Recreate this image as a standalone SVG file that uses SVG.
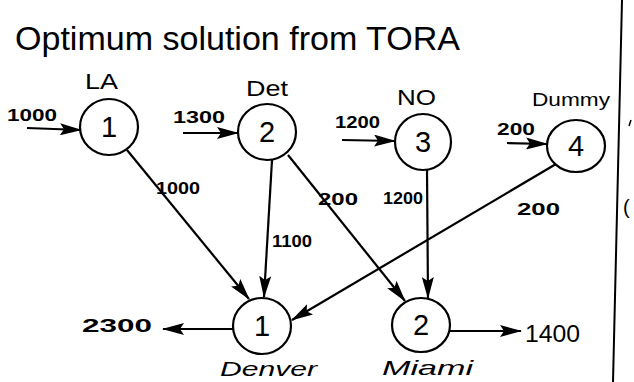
<svg xmlns="http://www.w3.org/2000/svg" width="634" height="382" viewBox="0 0 634 382">
<style>
  text{font-family:"Liberation Sans","DejaVu Sans",sans-serif;fill:#000}
  .title{font-size:34px}
  .name{font-size:22px}
  .num{font-size:17px;font-weight:bold}
  .city{font-size:21px;font-style:italic}
  .node ellipse{fill:#fff;stroke:#000;stroke-width:2.2}
  .node text.d{font-size:29px;text-anchor:middle}
  .edge{stroke:#000;stroke-width:2.2;fill:none;marker-end:url(#ah)}
</style>
<defs>
  <marker id="ah" viewBox="0 0 22 12" refX="21" refY="6" markerWidth="22" markerHeight="12" markerUnits="userSpaceOnUse" orient="auto">
    <path d="M0,0 L22,6 L0,12 L4,6 Z" fill="#000"/>
  </marker>
</defs>

<text class="title" x="15" y="50" textLength="445" lengthAdjust="spacingAndGlyphs">Optimum solution from TORA</text>

<g id="connectors">
  <line class="edge" x1="27" y1="128" x2="81" y2="130"/>
  <line class="edge" x1="183" y1="133" x2="238" y2="133"/>
  <line class="edge" x1="342" y1="140" x2="395" y2="141"/>
  <line class="edge" x1="507" y1="143" x2="547" y2="144"/>
  <line class="edge" x1="127" y1="150" x2="249" y2="299"/>
  <line class="edge" x1="272" y1="160" x2="264" y2="297"/>
  <line class="edge" x1="288" y1="155" x2="405" y2="301"/>
  <line class="edge" x1="427" y1="170" x2="428" y2="298"/>
  <line class="edge" x1="556" y1="164" x2="292" y2="320"/>
  <line class="edge" x1="233" y1="329" x2="163" y2="329"/>
  <line class="edge" x1="450" y1="331" x2="521" y2="331"/>
  <text class="num" x="7" y="121" textLength="50" lengthAdjust="spacingAndGlyphs">1000</text>
  <text class="num" x="173" y="123" textLength="52" lengthAdjust="spacingAndGlyphs">1300</text>
  <text class="num" x="335" y="128" textLength="45" lengthAdjust="spacingAndGlyphs">1200</text>
  <text class="num" x="497" y="135" textLength="38" lengthAdjust="spacingAndGlyphs">200</text>
  <text class="num" x="156" y="194" textLength="44" lengthAdjust="spacingAndGlyphs">1000</text>
  <text class="num" x="272" y="247" textLength="40" lengthAdjust="spacingAndGlyphs">1100</text>
  <text class="num" x="318" y="205" textLength="40" lengthAdjust="spacingAndGlyphs">200</text>
  <text class="num" x="383" y="204" textLength="40" lengthAdjust="spacingAndGlyphs">1200</text>
  <text class="num" x="517" y="215" textLength="43" lengthAdjust="spacingAndGlyphs">200</text>
  <text class="num" x="82" y="332" style="font-size:19px" textLength="70" lengthAdjust="spacingAndGlyphs">2300</text>
  <text class="num" x="525" y="342" style="font-size:23px;font-weight:normal" textLength="55" lengthAdjust="spacingAndGlyphs">1400</text>
</g>

<g id="la" class="node">
  <ellipse cx="109" cy="127" rx="29" ry="28"/>
  <text class="d" x="109" y="137">1</text>
  <text class="name" x="85" y="89" textLength="33" lengthAdjust="spacingAndGlyphs">LA</text>
</g>
<g id="det" class="node">
  <ellipse cx="267" cy="132" rx="29" ry="28"/>
  <text class="d" x="267" y="142">2</text>
  <text class="name" x="246" y="96" textLength="42" lengthAdjust="spacingAndGlyphs">Det</text>
</g>
<g id="no" class="node">
  <ellipse cx="423" cy="142" rx="28" ry="28"/>
  <text class="d" x="423" y="152">3</text>
  <text class="name" x="397" y="105" textLength="39" lengthAdjust="spacingAndGlyphs">NO</text>
</g>
<g id="dummy" class="node">
  <ellipse cx="576" cy="146" rx="29" ry="26"/>
  <text class="d" x="576" y="156">4</text>
  <text class="name" x="532" y="106" style="font-size:19px" textLength="78" lengthAdjust="spacingAndGlyphs">Dummy</text>
</g>
<g id="denver" class="node">
  <ellipse cx="262" cy="326" rx="29" ry="28"/>
  <text class="d" x="262" y="336">1</text>
  <text class="city" x="220" y="376" textLength="97" lengthAdjust="spacingAndGlyphs">Denver</text>
</g>
<g id="miami" class="node">
  <ellipse cx="421" cy="325" rx="29" ry="27"/>
  <text class="d" x="421" y="335">2</text>
  <text class="city" x="382" y="375" textLength="91" lengthAdjust="spacingAndGlyphs">Miami</text>
</g>

<line x1="622" y1="0" x2="613" y2="382" stroke="#000" stroke-width="2"/>
<text x="623" y="214" style="font-size:20px">(</text>
<path d="M631,120 L629,126" stroke="#000" stroke-width="1.5"/>
</svg>
